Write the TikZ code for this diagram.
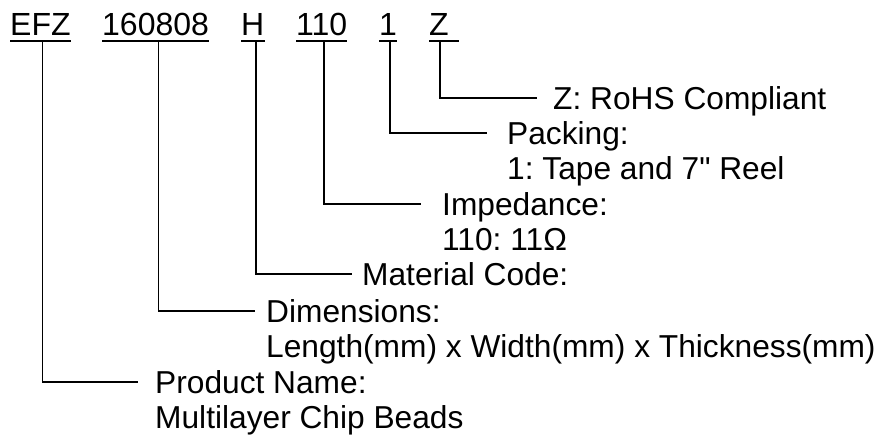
\documentclass[tikz,border=0pt]{standalone}
\usepackage{fontspec}
\setmainfont{Liberation Sans}[Ligatures=TeXOff]
\usetikzlibrary{positioning}
\frenchspacing

\begin{document}
\begin{tikzpicture}[x=1pt, y=-1pt,
    every node/.style={font=\fontsize{32}{35}\selectfont, inner sep=0pt},
    code/.style={anchor=base west, inner ysep=5pt, text depth=0pt},
    lbl/.style={anchor=west, text height=23pt, text depth=0pt,
                font=\fontsize{31.7}{35}\selectfont},
    link/.style={line width=1.6pt},
    uline/.style={line width=2pt}]
  \useasboundingbox (0,0) rectangle (880,436);

  % part number
  \node[code] (efz)  at (10,36)  {EFZ};
  \node[code] (dims) at (102,36) {160808};
  \node[code] (mat)  at (241,36) {H};
  \node[code] (imp)  at (296,36) {110};
  \node[code] (pck)  at (379,36) {1};
  \node[code] (rhs)  at (429,36) {Z};
  \foreach \c in {efz,dims,mat,imp,pck}
    \draw[uline] (\c.south west) -- (\c.south east);
  \draw[uline] (rhs.south west) -- ([xshift=10pt]rhs.south east);

  % explanations
  \node[lbl] (lrhs) at (553,98) {Z: RoHS Compliant};
  \node[lbl] (lpck) at (507,133) {Packing:};
  \node[lbl, below=35pt of lpck.west, anchor=west] (lpckv) {1: Tape and 7" Reel};
  \node[lbl] (limp) at (442,204) {Impedance:};
  \node[lbl, below=35pt of limp.west, anchor=west] (limpv) {110: 11Ω};
  \node[lbl] (lmat) at (362,274) {Material Code:};
  \node[lbl] (ldims) at (266,311) {Dimensions:};
  \node[lbl, below=35pt of ldims.west, anchor=west] (ldimsv) {Length(mm) x Width(mm) x Thickness(mm)};
  \node[lbl] (lprod) at (155,382) {Product Name:};
  \node[lbl, below=35pt of lprod.west, anchor=west] (lprodv) {Multilayer Chip Beads};

  % leaders
  \draw[link] ([xshift=2pt]efz.south) |- ([xshift=-17pt]lprod.west);
  \draw[link] ([xshift=3pt]dims.south) |- ([xshift=-11pt]ldims.west);
  \draw[link] ([xshift=3pt]mat.south) |- ([xshift=-10pt]lmat.west);
  \draw[link] ([xshift=2pt]imp.south) |- ([xshift=-21pt]limp.west);
  \draw[link] ([xshift=2pt]pck.south) |- ([xshift=-20pt]lpck.west);
  \draw[link] ([xshift=1pt]rhs.south) |- ([xshift=-16pt]lrhs.west);
\end{tikzpicture}
\end{document}
